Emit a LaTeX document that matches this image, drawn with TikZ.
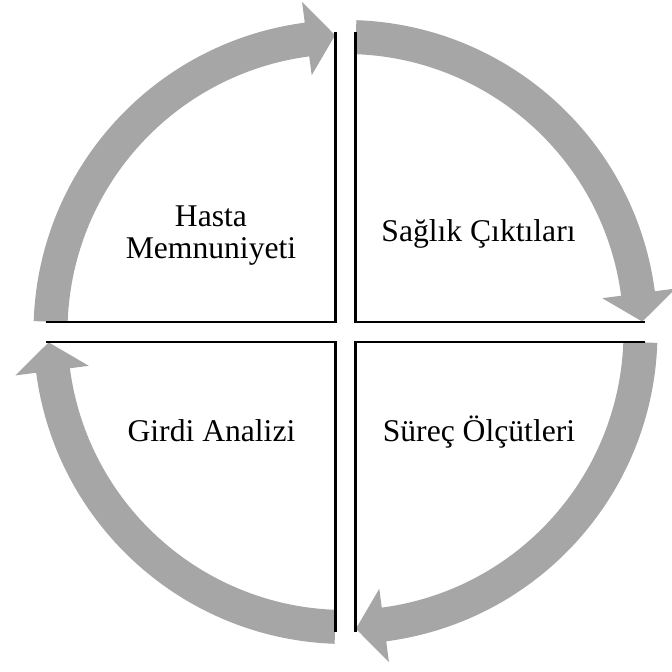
\documentclass[tikz,border=0pt]{standalone}
\usepackage{fontspec}
\setmainfont{Liberation Serif}
\usepackage{xcolor}
\definecolor{arrowgray}{HTML}{A6A6A6}
\tikzset{
  quad/.style={minimum width=5.8cm,minimum height=5.8cm,inner sep=0pt,outer sep=0pt},
  label/.style={inner sep=0pt,align=center,font=\fontsize{18}{18.2}\selectfont}
}

\begin{document}
\begin{tikzpicture}[x=0.02cm,y=0.02cm]

  \clip (-345.5,-340) rectangle (326.5,332); %page size
  % the four gray arrows, clockwise
  \foreach \b in {90,0,-90,-180}
   \fill[arrowgray] (\b+88:278) arc[start angle=\b+88,end angle=\b+7.5,radius=278]
     -- (\b+7.5:259) -- (\b+2:297) -- (\b+7.5:333)
     -- (\b+7.5:312) arc[start angle=\b+7.5,end angle=\b+88,radius=312] -- cycle;

  \node[quad] (qtl) at (-155,155) {};
  \node[quad] (qtr) at (155,155) {};
  \node[quad] (qbl) at (-155,-155) {};
  \node[quad] (qbr) at (155,-155) {};
  \draw[line width=1.5pt] (qtl.north east) -- (qtl.south east) -- (qtl.south west);
  \draw[line width=1.5pt] (qtr.north west) -- (qtr.south west) -- (qtr.south east);
  \draw[line width=1.5pt] (qbl.south east) -- (qbl.north east) -- (qbl.north west);
  \draw[line width=1.5pt] (qbr.south west) -- (qbr.north west) -- (qbr.north east);

  \node[label] (hasta) at (-134.5,96.5) {Hasta\\Memnuniyeti};
  \node[label,anchor=base] (saglik) at (133,90) {Sağlık Çıktıları};
  \node[label,anchor=base] (girdi) at (-134,-110) {Girdi Analizi};
  \node[label,anchor=base] (surec) at (133.5,-110) {Süreç Ölçütleri};
  \end{tikzpicture}
\end{document}
